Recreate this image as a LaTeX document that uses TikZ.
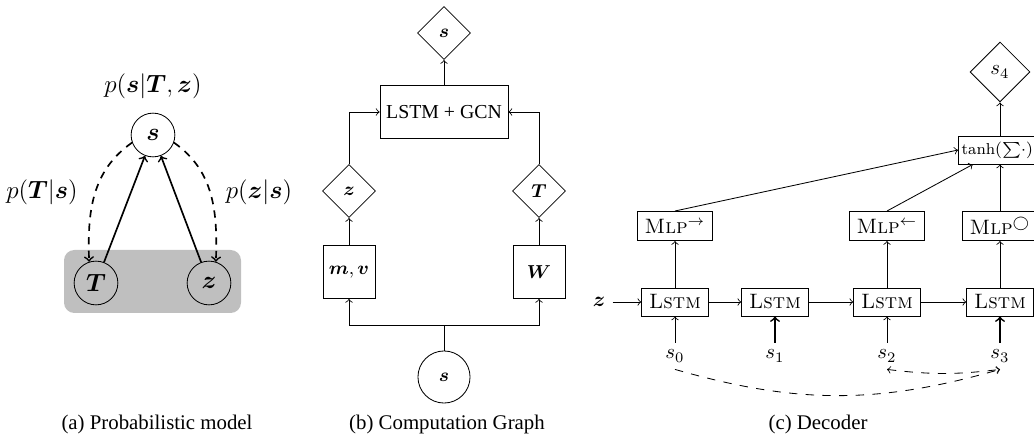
\documentclass[tikz,border=0pt]{standalone}
\usepackage{amsmath}
\usepackage{bm}
\usepackage{fontspec}
\newfontfamily\capfont{Liberation Serif}
\usetikzlibrary{shapes.geometric,calc}
\begin{document}
\begin{tikzpicture}[x=0.48pt,y=-0.48pt,
  pcirc/.style={circle,draw,minimum size=21pt,inner sep=0pt,font=\large},
  bcirc/.style={circle,draw,minimum size=25pt,inner sep=0pt},
  dia/.style={diamond,draw,minimum size=25.5pt,inner sep=0pt},
  bbox/.style={draw,minimum width=25pt,minimum height=25.4pt,inner sep=1pt},
  lbox/.style={draw,minimum width=32pt,minimum height=13.5pt,inner sep=1pt},
  mbox/.style={draw,minimum width=36pt,minimum height=14pt,inner sep=1pt},
  captext/.style={font=\capfont},
  dsh/.style={dash pattern=on 4pt off 4pt},
  >=to]
\useasboundingbox (0,0) rectangle (1034,438);

% ---------- (a) ----------
\fill[black!25,rounded corners=5pt] (64,250) rectangle (241,313);
\node[pcirc] (s) at (153,135) {$\bm{s}$};
\node[pcirc] (T) at (96,283) {$\bm{T}$};
\node[pcirc] (z) at (209,283) {$\bm{z}$};
\node[font=\large] (pstz) at (153,86) {$p(\bm{s}|\bm{T},\bm{z})$};
\node[font=\large] (pts) at (42,192) {$p(\bm{T}|\bm{s})$};
\node[font=\large] (pzs) at (259,192) {$p(\bm{z}|\bm{s})$};
\draw[->,thick] (T) -- (s);
\draw[->,thick] (z) -- (s);
\draw[->,thick,dash pattern=on 3.5pt off 3pt] (s.200) to[out=215,in=92] (T.108);
\draw[->,thick,dash pattern=on 3.5pt off 3pt] (s.-20) to[out=-35,in=88] (z.72);

% ---------- (b) ----------
\begin{scope}[font=\fontsize{9.5}{11}\selectfont]
\node[dia] (sd) at (444,33) {$\bm{s}$};
\node[draw,minimum width=61.4pt,minimum height=25.4pt,inner sep=1pt,font=\capfont\fontsize{9.5}{11}\selectfont] (lg) at (444,112) {LSTM + GCN};
\node[dia] (zd) at (349,191) {$\bm{z}$};
\node[dia] (Td) at (539,191) {$\bm{T}$};
\node[bbox] (mv) at (349,272) {$\bm{m},\bm{v}$};
\node[bbox] (W) at (539,272) {$\bm{W}$};
\node[bcirc] (sc) at (444,377) {$\bm{s}$};
\end{scope}
\coordinate (fork) at (444,325);
\draw[->] (lg) -- (sd);
\draw[->] (zd.north) |- (lg.west);
\draw[->] (Td.north) |- (lg.east);
\draw[->] (mv) -- (zd);
\draw[->] (W) -- (Td);
\draw (sc.north) -- (fork);
\draw[->] (fork) -| (mv.south);
\draw[->] (fork) -| (W.south);

% ---------- (c) ----------
\node[diamond,draw,minimum size=28.8pt,inner sep=0pt] (s4) at (1000,72) {$s_4$};
\node[draw,minimum height=13.5pt,inner xsep=1.5pt,inner ysep=2pt,font=\fontsize{7.6}{9}\selectfont,anchor=west] (th) at (958,150) {$\tanh(\sum\!\cdot)$};
\node[mbox] (m1) at (675,226) {\textsc{Mlp}$^\rightarrow$};
\node[mbox] (m2) at (887,226) {\textsc{Mlp}$^\leftarrow$};
\node[mbox] (m3) at (1000,226) {\textsc{Mlp}$^\bigcirc$};
\node[lbox] (l1) at (675,302) {\textsc{Lstm}};
\node[lbox] (l2) at (775,302) {\textsc{Lstm}};
\node[lbox] (l3) at (887,302) {\textsc{Lstm}};
\node[lbox] (l4) at (1000,302) {\textsc{Lstm}};
\node (zl) at (599,302) {$\bm{z}$};
\node (s0) at (675,356) {$s_0$};
\node (s1) at (775,356) {$s_1$};
\node (s2) at (887,356) {$s_2$};
\node (s3) at (1000,356) {$s_3$};
\draw[->] (th.north -| s4) -- (s4);
\draw[->] (m1.north) -- (th.west);
\draw[->] (m2.north) -- ($(th.south -| m3)!0.65!(th.south west)$);
\draw[->] (m3) -- (th.south -| m3);
\draw[->] (zl) -- (l1);
\draw[->] (l1) -- (l2);
\draw[->] (l2) -- (l3);
\draw[->] (l3) -- (l4);
\draw[->] (l1) -- (m1);
\draw[->] (l3) -- (m2);
\draw[->] (l4) -- (m3);
\draw[->] (s0) -- (l1);
\draw[->,thick] (s1) -- (l2);
\draw[->] (s2) -- (l3);
\draw[->,thick] (s3) -- (l4);
\draw[->,dsh] (s0.south) to[bend right=16] (s3.south);
\draw[<->,dsh] (s2.south) to[bend right=7] (s3.south);

% ---------- captions ----------
\node[captext] (ca) at (157,424) {(a) Probabilistic model};
\node[captext] (cb) at (447,424) {(b) Computation Graph};
\node[captext] (cc) at (818,424) {(c) Decoder};
\end{tikzpicture}
\end{document}
